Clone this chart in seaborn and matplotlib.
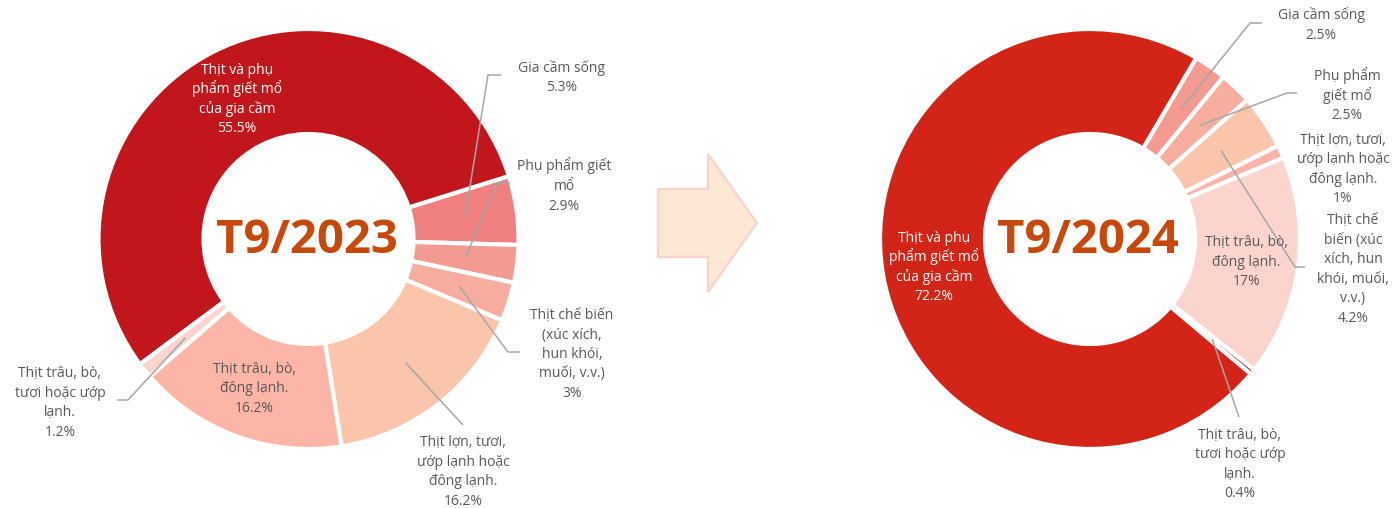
import numpy as np
import matplotlib
matplotlib.use("Agg")
import matplotlib.pyplot as plt
import seaborn as sns
from matplotlib.patches import Polygon

# ---------------- data ----------------
categories = [
    "Thịt và phụ phẩm giết mổ của gia cầm",
    "Gia cầm sống",
    "Phụ phẩm giết mổ",
    "Thịt chế biến (xúc xích, hun khói, muối, v.v.)",
    "Thịt lợn, tươi, ướp lạnh hoặc đông lạnh.",
    "Thịt trâu, bò, đông lạnh.",
    "Thịt trâu, bò, tươi hoặc ướp lạnh.",
]
values_2023 = [55.5, 5.3, 2.9, 3.0, 16.2, 16.2, 1.2]
values_2024 = [72.2, 2.5, 2.5, 4.2, 1.0, 17.0, 0.4]
pct_2023 = ["55.5%", "5.3%", "2.9%", "3%", "16.2%", "16.2%", "1.2%"]
pct_2024 = ["72.2%", "2.5%", "2.5%", "4.2%", "1%", "17%", "0.4%"]
labels_2023 = [
    "Thịt và phụ\nphẩm giết mổ\ncủa gia cầm",
    "Gia cầm sống",
    "Phụ phẩm giết\nmổ",
    "Thịt chế biến\n(xúc xích,\nhun khói,\nmuối, v.v.)",
    "Thịt lợn, tươi,\nướp lạnh hoặc\nđông lạnh.",
    "Thịt trâu, bò,\nđông lạnh.",
    "Thịt trâu, bò,\ntươi hoặc ướp\nlạnh.",
]
labels_2024 = [
    "Thịt và phụ\nphẩm giết mổ\ncủa gia cầm",
    "Gia cầm sống",
    "Phụ phẩm\ngiết mổ",
    "Thịt chế\nbiến (xúc\nxích, hun\nkhói, muối,\nv.v.)",
    "Thịt lợn, tươi,\nướp lạnh hoặc\nđông lạnh.",
    "Thịt trâu, bò,\nđông lạnh.",
    "Thịt trâu, bò,\ntươi hoặc ướp\nlạnh.",
]
titles = ["T9/2023", "T9/2024"]

# ---------------- styles / layout ----------------
colors_2023 = ["#C1161B", "#F08080", "#F39B92", "#F6AD9F", "#FBC5AB", "#FDB5A8", "#FBD4CD"]
colors_2024 = ["#D32517", "#F39A91", "#F7AE9F", "#FBC5AB", "#FAB3A9", "#FBD4CE", "#C1161B"]

W, H = 1394, 508
R_OUT, R_IN, R_MID = 210, 105, 158
GRAY = "#595959"
LINE = "#A6A6A6"
FS = 10.0
PITCH = 19.5
BASE_OFF = 5.0

# label placement per wedge: ("in", color) or ("out", (x, yc), [elbow points])
layout_2023 = dict(
    center=(308.5, 239), start=216.6,
    place=[
        ("in", "white"),
        ("out", (562, 76.5), [(488, 75), (501, 75)]),
        ("out", (564, 185), [(497, 183), (510, 183)]),
        ("out", (572, 353), [(508, 352), (520, 352)]),
        ("out", (463, 470.5), [(463, 425)]),
        ("in", GRAY),
        ("out", (60, 401.5), [(128, 400), (117, 400)]),
    ])
layout_2024 = dict(
    center=(1090, 239), start=320.0,
    place=[
        ("in", "white"),
        ("out", (1321, 24), [(1250, 23), (1262, 23)]),
        ("out", (1347, 94.5), [(1287, 93), (1297, 93)]),
        ("out", (1353, 268), [(1295, 267), (1305, 267)]),
        ("out", (1343, 168), []),
        ("in", GRAY),
        ("out", (1240, 463), [(1239, 417)]),
    ])

sns.set_theme(style="white")
plt.rcParams["font.family"] = ["Open Sans", "Noto Sans", "DejaVu Sans"]

fig = plt.figure(figsize=(W / 100, H / 100), dpi=100)
ax = fig.add_axes([0, 0, 1, 1])


def block(x, yc, lines, color, size=FS, pitch=PITCH):
    n = len(lines)
    for i, ln in enumerate(lines):
        y = yc + (i - (n - 1) / 2) * pitch
        ax.text(x, H - (y + BASE_OFF), ln, ha="center", va="baseline",
                fontsize=size, color=color, zorder=5)


def donut(values, colors, labels, pcts, title, lay):
    cx, cy = lay["center"]
    pal = sns.color_palette(colors)
    wedges, _ = ax.pie(values, colors=pal, startangle=lay["start"], counterclock=False,
                       center=(cx, H - cy), radius=R_OUT, frame=True,
                       wedgeprops=dict(width=R_OUT - R_IN, edgecolor="white", linewidth=3))
    for w, lab, pct, pl in zip(wedges, labels, pcts, lay["place"]):
        mid = np.deg2rad((w.theta1 + w.theta2) / 2)
        ax_x = cx + R_MID * np.cos(mid)
        ax_y = cy - R_MID * np.sin(mid)
        lines = lab.split("\n") + [pct]
        if pl[0] == "in":
            block(ax_x, ax_y, lines, pl[1])
        else:
            (tx, ty), pts = pl[1], pl[2]
            if pts:
                xs = [ax_x] + [p[0] for p in pts]
                ys = [H - ax_y] + [H - p[1] for p in pts]
                ax.plot(xs, ys, color=LINE, lw=1.1, zorder=4, solid_capstyle="butt")
            block(tx, ty, lines, GRAY)
    ax.text(cx - 2, H - 253, title, ha="center", va="baseline", fontsize=34,
            fontweight="bold", color="#C8470B", zorder=6)


donut(values_2023, colors_2023, labels_2023, pct_2023, titles[0], layout_2023)
donut(values_2024, colors_2024, labels_2024, pct_2024, titles[1], layout_2024)

# arrow between the two charts
arrow = Polygon([(658, H - 189), (708, H - 189), (708, H - 154), (757, H - 223),
                 (708, H - 292), (708, H - 257), (658, H - 257)], closed=True,
                facecolor="#FCE8D3", edgecolor="#FAD1CB", linewidth=1.6, zorder=3)
ax.add_patch(arrow)

ax.set_xlim(0, W)
ax.set_ylim(0, H)
ax.set_aspect("equal")
ax.set_axis_off()
fig.savefig("out.png", dpi=100, facecolor="white")
